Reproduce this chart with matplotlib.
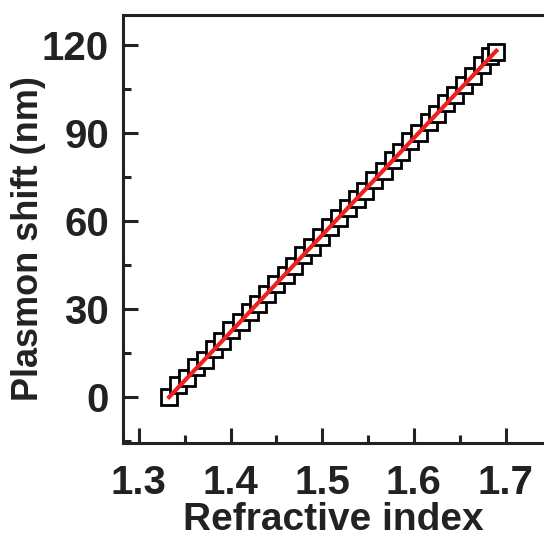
import matplotlib.pyplot as plt
import numpy as np

# refractive index vs plasmon shift
n_index = [1.333, 1.343, 1.352, 1.362, 1.372, 1.382, 1.391, 1.401, 1.411, 1.421,
           1.430, 1.440, 1.450, 1.460, 1.469, 1.479, 1.489, 1.499, 1.508, 1.518,
           1.528, 1.538, 1.547, 1.557, 1.567, 1.577, 1.586, 1.596, 1.606, 1.616,
           1.625, 1.635, 1.645, 1.655, 1.664, 1.674, 1.683, 1.690]
shift = [0.0, 4.2, 6.5, 10.1, 12.8, 16.3, 19.0, 22.8, 25.6, 29.1,
         31.9, 35.2, 38.4, 41.6, 44.8, 48.3, 51.2, 54.6, 57.9, 61.0,
         64.3, 67.5, 70.4, 74.1, 77.2, 80.9, 83.6, 87.3, 90.2, 93.8,
         96.6, 100.2, 103.1, 106.5, 109.6, 113.4, 116.2, 117.8]

xticks = [1.3, 1.4, 1.5, 1.6, 1.7]
yticks = [0, 30, 60, 90, 120]

plt.rcParams['font.family'] = ['Liberation Sans', 'DejaVu Sans']
plt.rcParams['font.weight'] = 'bold'

fig = plt.figure(figsize=(5.44, 5.45), dpi=100)
ax = fig.add_axes([0.226, 0.187, 0.774, 0.785])

ax.plot(n_index, shift, 's', markersize=12, markerfacecolor='white',
        markeredgecolor='black', markeredgewidth=2, zorder=2)

coef = np.polyfit(n_index, shift, 1)
xf = np.array([n_index[0], n_index[-1]])
ax.plot(xf, np.polyval(coef, xf), color='#ee2020', linewidth=3, zorder=3)

ax.set_xlim(1.2826, 1.742)
ax.set_ylim(-15.7, 130.2)
ax.set_xticks(xticks)
ax.set_xticklabels([f"{v:.1f}" for v in xticks])
ax.set_yticks(yticks)
ax.set_xticks([1.35, 1.45, 1.55, 1.65], minor=True)
ax.set_yticks([-15, 15, 45, 75, 105], minor=True)

ax.tick_params(axis='both', which='major', direction='in', length=11, width=2.2,
               labelsize=29, pad=10, colors='#222222')
ax.tick_params(axis='both', which='minor', direction='in', length=6, width=2.2,
               colors='#222222')
ax.tick_params(axis='x', pad=15)

ax.spines['right'].set_visible(False)
for s in ['left', 'top', 'bottom']:
    ax.spines[s].set_linewidth(2.2)
    ax.spines[s].set_color('#222222')

ax.set_xlabel("Refractive index", fontsize=28, fontweight='bold', labelpad=0,
              color='#222222')
ax.set_ylabel("Plasmon shift (nm)", fontsize=26, fontweight='bold',
              color='#222222')
ax.yaxis.set_label_coords(-0.183, 0.479)

fig.savefig("out.png", dpi=100)
